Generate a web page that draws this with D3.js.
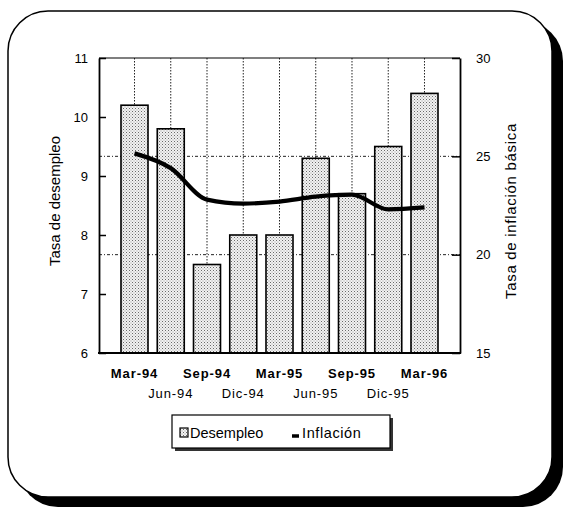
<!DOCTYPE html>
<html><head><meta charset="utf-8">
<script src="https://cdn.jsdelivr.net/npm/d3@7"></script>
<style>
html,body{margin:0;padding:0;background:#fff;}
svg{display:block;font-family:"Liberation Sans",Arial,Helvetica,sans-serif;}
</style></head>
<body>
<svg id="chart" width="565" height="508"></svg>
<script>
const categories = ["Mar-94","Jun-94","Sep-94","Dic-94","Mar-95","Jun-95","Sep-95","Dic-95","Mar-96"];
const desempleo = [10.2, 9.8, 7.5, 8.0, 8.0, 9.3, 8.7, 9.5, 10.4];
const inflacion = [25.15, 24.4, 22.8, 22.6, 22.7, 22.95, 23.05, 22.3, 22.4];
const leftTicks = [6, 7, 8, 9, 10, 11];
const rightTicks = [15, 20, 25, 30];
const gridRight = [20, 25];
const seriesNames = ["Desempleo", "Inflación"];
const yTitleLeft = "Tasa de desempleo";
const yTitleRight = "Tasa de inflación básica";

const svg = d3.select("#chart");
const defs = svg.append("defs");
const pat = defs.append("pattern").attr("id","dots").attr("patternUnits","userSpaceOnUse")
  .attr("width",3).attr("height",3);
pat.append("rect").attr("width",3).attr("height",3).attr("fill","#f2f2f2");
pat.append("rect").attr("x",0).attr("y",0).attr("width",1).attr("height",1).attr("fill","#6a6a6a");
pat.append("rect").attr("x",1.5).attr("y",1.5).attr("width",1).attr("height",1).attr("fill","#9a9a9a");

// frame with shadow
svg.append("rect").attr("x",18).attr("y",21).attr("width",545).attr("height",486).attr("rx",40).attr("fill","#000");
svg.append("rect").attr("x",8).attr("y",11).attr("width",544).attr("height",486).attr("rx",40)
  .attr("fill","#fff").attr("stroke","#000").attr("stroke-width",1.5);

const L = 99, R = 460, T = 58, B = 353;
const x = d3.scaleBand().domain(categories).range([L, R]).paddingInner(0.255).paddingOuter(0.607);
const yL = d3.scaleLinear().domain([6, 11]).range([B, T]);
const yR = d3.scaleLinear().domain([15, 30]).range([B, T]);

// grid
svg.append("g").selectAll("line").data(categories).join("line")
  .attr("x1", d => x(d) + x.bandwidth()/2).attr("x2", d => x(d) + x.bandwidth()/2)
  .attr("y1", T).attr("y2", B).attr("stroke","#222").attr("stroke-width",1).attr("stroke-dasharray","1.5,1.5");
svg.append("g").selectAll("line").data(gridRight).join("line")
  .attr("x1", L).attr("x2", R).attr("y1", d => yR(d)).attr("y2", d => yR(d))
  .attr("stroke","#222").attr("stroke-width",1).attr("stroke-dasharray","3,2,1,2");

// bars
svg.append("g").selectAll("rect").data(desempleo).join("rect")
  .attr("x", (d,i) => x(categories[i])).attr("width", x.bandwidth())
  .attr("y", d => yL(d)).attr("height", d => B - yL(d))
  .attr("fill","url(#dots)").attr("stroke","#000").attr("stroke-width",1.6);

// line
const line = d3.line().x((d,i) => x(categories[i]) + x.bandwidth()/2).y(d => yR(d)).curve(d3.curveMonotoneX);
svg.append("path").datum(inflacion).attr("d", line).attr("fill","none").attr("stroke","#000")
  .attr("stroke-width",4.2).attr("stroke-linejoin","round");

// frame of plot
svg.append("line").attr("x1",L).attr("x2",R).attr("y1",T).attr("y2",T).attr("stroke","#000").attr("stroke-width",1.2);

// axes
const axL = d3.axisLeft(yL).tickValues(leftTicks).tickSizeInner(-7).tickSizeOuter(0).tickPadding(11).tickFormat(d3.format("d"));
const gL = svg.append("g").attr("transform",`translate(${L},0)`).call(axL);
const axR = d3.axisRight(yR).tickValues(rightTicks).tickSizeInner(-8).tickSizeOuter(0).tickPadding(16).tickFormat(d3.format("d"));
const gR = svg.append("g").attr("transform",`translate(${R},0)`).call(axR);
[gL, gR].forEach(g => {
  g.select(".domain").attr("stroke","#000").attr("stroke-width",1.8);
  g.selectAll(".tick line").attr("stroke","#000").attr("stroke-width",1.5);
  g.selectAll(".tick text").attr("font-size",13).attr("fill","#000").attr("font-family","'Liberation Sans',Arial,sans-serif");
});
svg.append("line").attr("x1",L-1).attr("x2",R+1).attr("y1",B).attr("y2",B).attr("stroke","#000").attr("stroke-width",2.2);

// x labels
svg.append("g").selectAll("text").data(categories).join("text")
  .attr("x", d => x(d) + x.bandwidth()/2)
  .attr("y", (d,i) => i % 2 === 0 ? 378 : 398)
  .attr("text-anchor","middle").attr("font-size",13).attr("letter-spacing",0.9)
  .attr("font-weight", (d,i) => i % 2 === 0 ? "bold" : "normal")
  .text(d => d);

// titles
svg.append("text").attr("transform","translate(60,201) rotate(-90)").attr("text-anchor","middle")
  .attr("font-size",15).text(yTitleLeft);
svg.append("text").attr("transform","translate(516,211) rotate(-90)").attr("text-anchor","middle")
  .attr("font-size",15).attr("letter-spacing",0.7).text(yTitleRight);

// legend
const lg = svg.append("g");
lg.append("rect").attr("x",175).attr("y",418).attr("width",218).attr("height",33).attr("fill","#333");
lg.append("rect").attr("x",172).attr("y",415).attr("width",218).attr("height",33).attr("fill","#fff").attr("stroke","#000").attr("stroke-width",1.2);
lg.append("rect").attr("x",180).attr("y",428).attr("width",8).attr("height",9).attr("fill","url(#dots)").attr("stroke","#000").attr("stroke-width",1.2);
lg.append("text").attr("x",190).attr("y",438).attr("font-size",14.5).text(seriesNames[0]);
lg.append("line").attr("x1",292).attr("x2",299).attr("y1",436).attr("y2",436).attr("stroke","#000").attr("stroke-width",3.5);
lg.append("text").attr("x",302).attr("y",438).attr("font-size",14.5).attr("letter-spacing",0.6).text(seriesNames[1]);
</script>
</body></html>
